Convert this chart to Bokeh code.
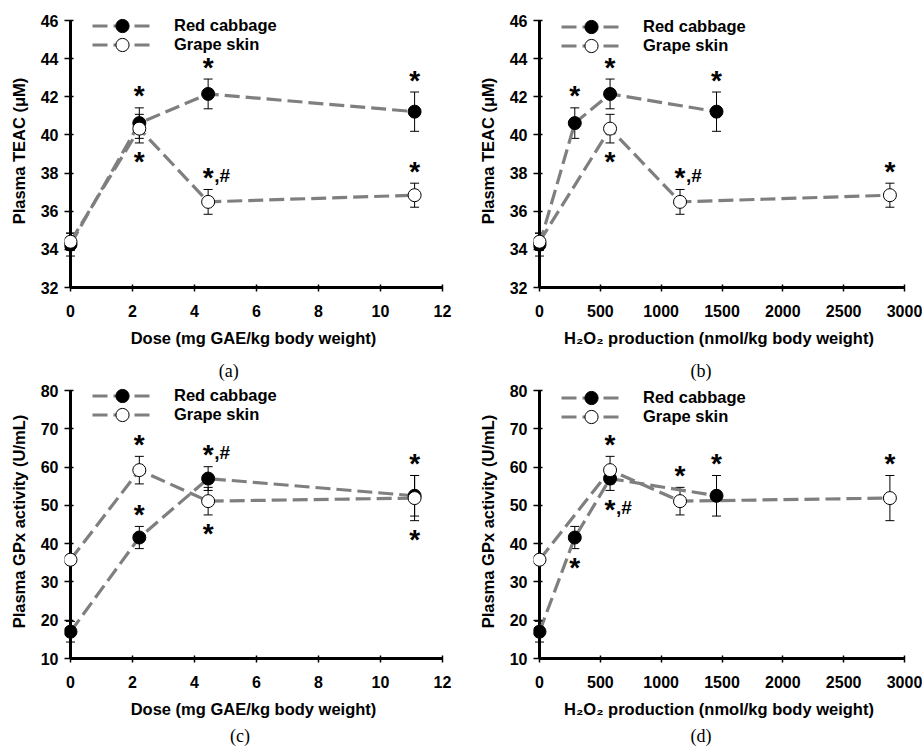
from bokeh.plotting import figure
from bokeh.models import (Range1d, FixedTicker, Whisker, TeeHead, ColumnDataSource,
                          Legend, LegendItem, LinearAxis)
from bokeh.layouts import column, row
from bokeh.core.properties import value
from bokeh.embed import file_html
from bokeh.resources import INLINE

# ---------------- data ----------------
dose = [0, 2.22, 4.44, 11.1]                 # mg GAE/kg body weight
h2o2_red = [0, 290, 580, 1455]               # nmol/kg body weight
h2o2_grape = [0, 580, 1155, 2880]

teac_red = [34.25, 40.62, 42.15, 41.22]
teac_red_err = [0.6, 0.8, 0.78, 1.03]
teac_grape = [34.4, 40.33, 36.49, 36.84]
teac_grape_err = [0.45, 0.75, 0.65, 0.63]

gpx_red = [17.0, 41.6, 57.0, 52.5]
gpx_red_err = [2.7, 2.9, 3.1, 5.3]
gpx_grape = [35.8, 59.2, 51.1, 51.9]
gpx_grape_err = [0.5, 3.6, 3.6, 5.9]

teac_ticks = [32, 34, 36, 38, 40, 42, 44, 46]
gpx_ticks = [10, 20, 30, 40, 50, 60, 70, 80]
dose_ticks = [0, 2, 4, 6, 8, 10, 12]
h2o2_ticks = [0, 500, 1000, 1500, 2000, 2500, 3000]

# significance marks: (series, point index, side, extra text)
sig_a = [("red", 1, "up", ""), ("red", 2, "up", ""), ("red", 3, "up", ""),
         ("grape", 1, "down", ""), ("grape", 2, "up", ",#"), ("grape", 3, "up", "")]
sig_b = sig_a
sig_c = [("red", 1, "up", ""), ("red", 2, "up", ",#"), ("red", 3, "up", ""),
         ("grape", 1, "up", ""), ("grape", 2, "down", ""), ("grape", 3, "down", "")]
sig_d = [("red", 1, "down", ""), ("red", 2, "down", ",#"), ("red", 3, "up", ""),
         ("grape", 1, "up", ""), ("grape", 2, "up", ""), ("grape", 3, "up", "")]

# ---------------- style ----------------
FONT = "Liberation Sans"
GRAY = "#7f7f7f"
PAD = 6      # px between frame left and x = 0
TOPPAD = 6   # px between frame top and the highest y tick
NB = "\u00a0"


def make_panel(xmax, yr, xticks, yticks, xlabel, ylabel, tag, series, sig, geom):
    width, height, bl, br, bt, bb, tag_pad, tag_standoff, leg_rel = geom
    frame_w = width - bl - br
    frame_h = height - bt - bb
    x0 = -PAD * xmax / (frame_w - PAD)
    y1 = yr[1] + TOPPAD * (yr[1] - yr[0]) / (frame_h - TOPPAD)
    p = figure(width=width, height=height, x_range=Range1d(x0, xmax),
               y_range=Range1d(yr[0], y1), output_backend="svg", toolbar_location=None,
               min_border_left=bl, min_border_right=br, min_border_top=bt,
               min_border_bottom=bb, background_fill_color="white",
               border_fill_color="white", outline_line_color=None)
    p.xgrid.visible = False
    p.ygrid.visible = False

    for ax, ticks, lab in ((p.xaxis[0], xticks, xlabel), (p.yaxis[0], yticks, ylabel)):
        ax.ticker = FixedTicker(ticks=ticks, minor_ticks=[])
        ax.axis_label = lab
        ax.axis_line_width = 3
        ax.axis_line_color = "black"
        ax.major_tick_line_width = 1.5
        ax.major_tick_line_color = "black"
        ax.minor_tick_line_color = None
        ax.major_label_text_font = FONT
        ax.major_label_text_font_style = "bold"
        ax.major_label_text_font_size = "16px"
        ax.major_label_text_color = "black"
        ax.axis_label_text_font = FONT
        ax.axis_label_text_font_style = "bold"
        ax.axis_label_text_font_size = "16.5px"
        ax.axis_label_text_color = "black"
    p.xaxis.major_tick_in = 3
    p.xaxis.major_tick_out = 4
    p.xaxis.major_label_standoff = 13
    p.xaxis.axis_label_standoff = 9
    p.xaxis.bounds = (0, xmax)
    # the y axis line itself sits at x = 0, a few pixels inside the frame
    p.yaxis.axis_line_color = None
    p.yaxis.major_tick_in = PAD + 3
    p.yaxis.major_tick_out = 0
    p.yaxis.major_label_standoff = 6
    p.yaxis.axis_label_standoff = 10
    p.segment(x0=[0], y0=[yr[0]], x1=[0], y1=[yr[1]], line_color="black",
              line_width=3, level="underlay")

    # panel tag, e.g. "(a)", as a label-only axis under the x axis
    tag_axis = LinearAxis(axis_label=tag + NB * tag_pad, ticker=FixedTicker(ticks=[]),
                          axis_line_color=None, major_tick_line_color=None,
                          minor_tick_line_color=None, major_tick_in=0, major_tick_out=0,
                          major_label_standoff=0, axis_label_standoff=tag_standoff,
                          axis_label_text_font="Liberation Serif",
                          axis_label_text_font_size="18px",
                          axis_label_text_font_style="normal",
                          axis_label_text_color="black")
    p.add_layout(tag_axis, "below")

    # lines
    lines = {}
    for s in series:
        lines[s["name"]] = p.line(s["x"], s["y"], line_color=GRAY, line_width=3.2,
                                  line_dash="15 6")
    # error bars
    for s in series:
        src = ColumnDataSource(dict(x=s["x"],
                                    lower=[v - e for v, e in zip(s["y"], s["err"])],
                                    upper=[v + e for v, e in zip(s["y"], s["err"])]))
        w = Whisker(source=src, base="x", lower="lower", upper="upper",
                    dimension="height", line_color="black", line_width=1,
                    lower_head=TeeHead(size=9, line_color="black", line_width=1),
                    upper_head=TeeHead(size=9, line_color="black", line_width=1))
        p.add_layout(w)
    # markers
    marks = {}
    for s in series:
        marks[s["name"]] = p.scatter(s["x"], s["y"], size=13, fill_color=s["fill"],
                                     line_color="black", line_width=1)

    # significance marks
    bykey = {s["key"]: s for s in series}
    sx, sy, soff, hx, hy, hoff, htxt = [], [], [], [], [], [], []
    for key, i, side, extra in sig:
        s = bykey[key]
        if side == "up":
            yb = s["y"][i] + s["err"][i]
            c = -15
        else:
            yb = s["y"][i] - s["err"][i]
            c = 16
        sx.append(s["x"][i]); sy.append(yb); soff.append(c + 3)
        if extra:
            hx.append(s["x"][i]); hy.append(yb); hoff.append(c + 1); htxt.append(extra)
    p.text(x=sx, y=sy, text=["*"] * len(sx), y_offset=soff, text_align="center",
           text_baseline="alphabetic", text_font=value(FONT), text_font_style="bold",
           text_font_size="28px", text_color="black")
    if hx:
        p.text(x=hx, y=hy, text=htxt, y_offset=hoff, x_offset=6, text_align="left",
               text_baseline="alphabetic", text_font=value(FONT), text_font_style="bold",
               text_font_size="19px", text_color="black")

    # legend: one single-row legend per series
    for k, s in enumerate(series):
        centre = TOPPAD + leg_rel + 19 * k
        leg = Legend(items=[LegendItem(label=s["name"],
                                       renderers=[lines[s["name"]], marks[s["name"]]])],
                     location=(PAD + 22, frame_h - centre - 21),
                     glyph_width=60, glyph_height=33, label_height=19,
                     padding=0, margin=0, label_standoff=22,
                     label_text_font=FONT, label_text_font_style="bold",
                     label_text_font_size="16.5px", label_text_color="black",
                     background_fill_alpha=0, border_line_alpha=0)
        p.add_layout(leg)
    return p


def ser(xr, xg, yr, er, yg, eg):
    return [dict(name="Red cabbage", key="red", x=xr, y=yr, err=er, fill="black"),
            dict(name="Grape skin", key="grape", x=xg, y=yg, err=eg, fill="white")]


dose_lab = "Dose (mg GAE/kg body weight)"
h2o2_lab = "H\u2082O\u2082 production (nmol/kg body weight)"

# geom: width, height, border l, r, t, b, tag nbsp pad, tag standoff, legend first-row offset
pa = make_panel(12, (32, 46), dose_ticks, teac_ticks, dose_lab, "Plasma TEAC (\u03bcM)", "(a)",
                ser(dose, dose, teac_red, teac_red_err, teac_grape, teac_grape_err), sig_a,
                (461, 383, 64, 19, 14, 96, 11, 11, 1))
pb = make_panel(3000, (32, 46), h2o2_ticks, teac_ticks, h2o2_lab, "Plasma TEAC (\u03bcM)", "(b)",
                ser(h2o2_red, h2o2_grape, teac_red, teac_red_err, teac_grape, teac_grape_err), sig_b,
                (461, 383, 72, 18, 14, 96, 8, 11, 2))
pc = make_panel(12, (10, 80), dose_ticks, gpx_ticks, dose_lab, "Plasma GPx activity (U/mL)", "(c)",
                ser(dose, dose, gpx_red, gpx_red_err, gpx_grape, gpx_grape_err), sig_c,
                (461, 366, 64, 19, 1, 91, 6, 5, 1))
pd = make_panel(3000, (10, 80), h2o2_ticks, gpx_ticks, h2o2_lab, "Plasma GPx activity (U/mL)", "(d)",
                ser(h2o2_red, h2o2_grape, gpx_red, gpx_red_err, gpx_grape, gpx_grape_err), sig_d,
                (461, 366, 72, 18, 1, 91, 8, 5, 3))

layout = column(row(pa, pb), row(pc, pd))
open("out.html", "w").write(file_html(layout, INLINE))
